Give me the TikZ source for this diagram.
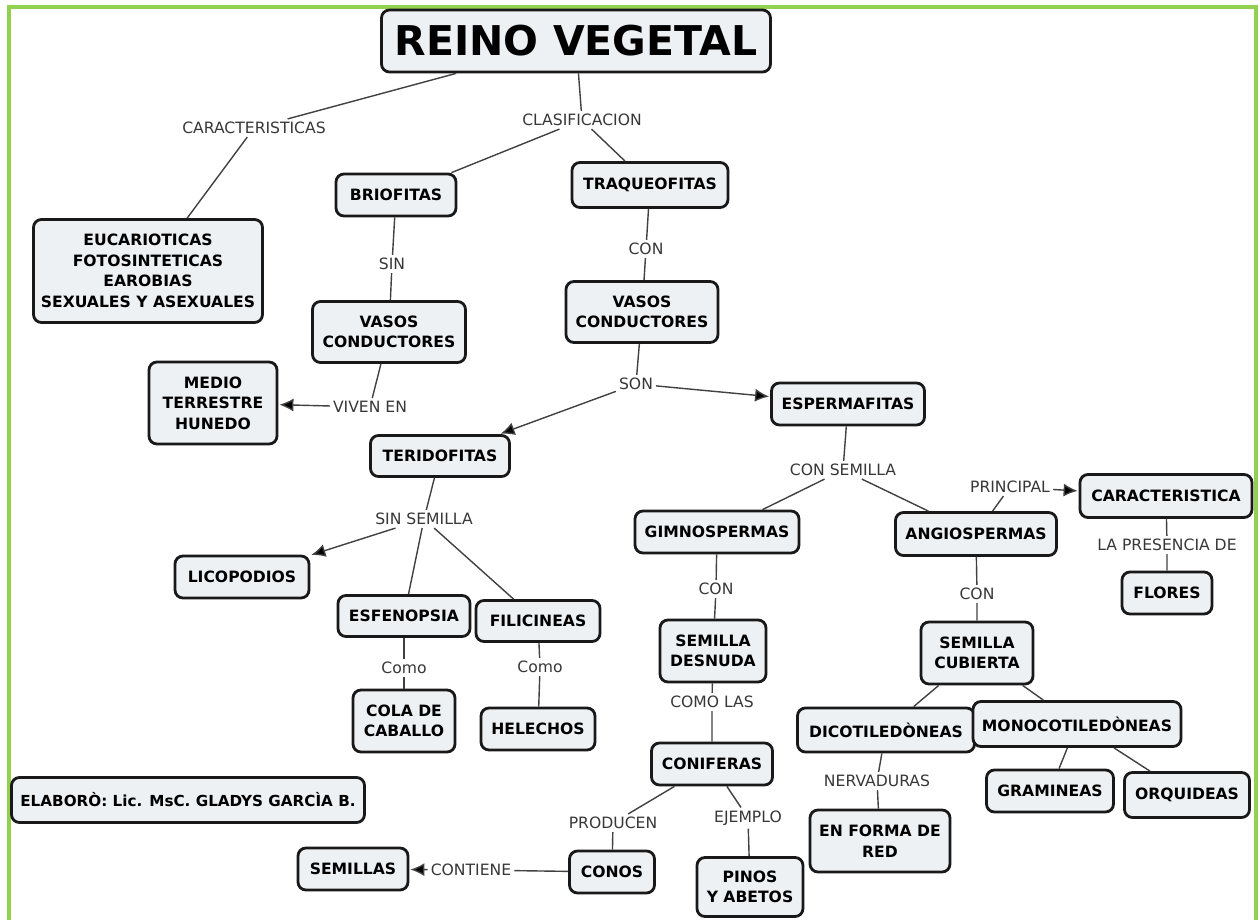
\documentclass[tikz,border=0pt]{standalone}
\usepackage{fontspec}
\setmainfont{DejaVu Sans}
\usetikzlibrary{arrows.meta}
\definecolor{boxfill}{RGB}{237,241,244}
\definecolor{framegreen}{RGB}{146,208,80}
\definecolor{conn}{RGB}{65,65,65}
\definecolor{lbl}{RGB}{55,55,55}
\tikzset{
 concept/.style={draw=black!90, line width=2.8pt, rounded corners=8pt, fill=boxfill,
   font=\bfseries\fontsize{15.6}{20.5}\selectfont, align=center, inner sep=4pt},
 linklbl/.style={font=\fontsize{15.6}{18}\selectfont, text=lbl, inner sep=3pt},
 link/.style={draw=conn, line width=1.4pt},
 arr/.style={link, -{Latex[length=14pt,width=13pt,fill=black]}, shorten >=1pt},
}
\begin{document}
\begin{tikzpicture}[x=1pt,y=-1pt]
\useasboundingbox (0,0) rectangle (1258,920);
\fill[white] (0,0) rectangle (1258,920);
\draw[framegreen, line width=3.5pt] (9,920) -- (9,7) -- (1256,7) -- (1256,920);

% concept nodes
\node[concept, minimum width=389, minimum height=62, font=\bfseries\fontsize{41}{45}\selectfont] (reino) at (576,41) {REINO VEGETAL};
\node[concept, minimum width=229, minimum height=103] (eucar) at (148,271) {EUCARIOTICAS\\FOTOSINTETICAS\\EAROBIAS\\SEXUALES Y ASEXUALES};
\node[concept, minimum width=120, minimum height=42] (brio) at (396,195) {BRIOFITAS};
\node[concept, minimum width=156, minimum height=45] (traq) at (650,185) {TRAQUEOFITAS};
\node[concept, minimum width=153, minimum height=61] (vasos1) at (389,332) {VASOS\\CONDUCTORES};
\node[concept, minimum width=152, minimum height=61] (vasos2) at (642,312) {VASOS\\CONDUCTORES};
\node[concept, minimum width=128, minimum height=82] (medio) at (213,403) {MEDIO\\TERRESTRE\\HUNEDO};
\node[concept, minimum width=139, minimum height=41] (terid) at (440,456) {TERIDOFITAS};
\node[concept, minimum width=153, minimum height=42] (esperma) at (848,404) {ESPERMAFITAS};
\node[concept, minimum width=134, minimum height=42] (licop) at (242,577) {LICOPODIOS};
\node[concept, minimum width=132, minimum height=41] (esfen) at (404,616) {ESFENOPSIA};
\node[concept, minimum width=124, minimum height=41] (filic) at (538,621) {FILICINEAS};
\node[concept, minimum width=102, minimum height=62] (cola) at (404,721) {COLA DE\\CABALLO};
\node[concept, minimum width=114, minimum height=42] (helechos) at (538,729) {HELECHOS};
\node[concept, minimum width=164, minimum height=42] (gimno) at (717,532) {GIMNOSPERMAS};
\node[concept, minimum width=161, minimum height=43] (angio) at (976,534) {ANGIOSPERMAS};
\node[concept, minimum width=172, minimum height=43] (caract) at (1166,496) {CARACTERISTICA};
\node[concept, minimum width=90, minimum height=42] (flores) at (1167,593) {FLORES};
\node[concept, minimum width=106, minimum height=62] (semdes) at (713,651) {SEMILLA\\DESNUDA};
\node[concept, minimum width=112, minimum height=62] (semcub) at (977,653) {SEMILLA\\CUBIERTA};
\node[concept, minimum width=177, minimum height=44] (dico) at (886,730) {DICOTILEDÒNEAS};
\node[concept, minimum width=208, minimum height=45] (mono) at (1077,724) {MONOCOTILEDÒNEAS};
\node[concept, minimum width=140, minimum height=62] (enforma) at (880,841) {EN FORMA DE\\RED};
\node[concept, minimum width=127, minimum height=42] (gram) at (1050,791) {GRAMINEAS};
\node[concept, minimum width=125, minimum height=45] (orq) at (1187,795) {ORQUIDEAS};
\node[concept, minimum width=121, minimum height=42] (conif) at (712,764) {CONIFERAS};
\node[concept, minimum width=85, minimum height=42] (conos) at (612,872) {CONOS};
\node[concept, minimum width=106, minimum height=59] (pinos) at (750,887) {PINOS\\Y ABETOS};
\node[concept, minimum width=110, minimum height=42] (semillas) at (353,869) {SEMILLAS};
\node[concept, minimum width=353, minimum height=45, font=\bfseries\fontsize{15.2}{18}\selectfont] (elab) at (188,800) {ELABORÒ: Lic. MsC. GLADYS GARCÌA B.};

% linking phrases
\node[linklbl] (lcar) at (254,128) {CARACTERISTICAS};
\node[linklbl] (lclas) at (582,120) {CLASIFICACION};
\node[linklbl] (lsin) at (392,264) {SIN};
\node[linklbl] (lcon1) at (646,249) {CON};
\node[linklbl] (lviven) at (370,407) {VIVEN EN};
\node[linklbl] (lson) at (636,384) {SON};
\node[linklbl] (lsinsem) at (424,519) {SIN SEMILLA};
\node[linklbl] (lcomo1) at (404,668) {Como};
\node[linklbl] (lcomo2) at (540,667) {Como};
\node[linklbl] (lconsem) at (843,470) {CON SEMILLA};
\node[linklbl] (lprin) at (1010,487) {PRINCIPAL};
\node[linklbl] (lpres) at (1167,545) {LA PRESENCIA DE};
\node[linklbl] (lcon3) at (977,594) {CON};
\node[linklbl] (lcon2) at (716,589) {CON};
\node[linklbl] (lcomolas) at (712,702) {COMO LAS};
\node[linklbl] (lnerv) at (877,781) {NERVADURAS};
\node[linklbl] (lprod) at (613,823) {PRODUCEN};
\node[linklbl] (lejem) at (748,818) {EJEMPLO};
\node[linklbl] (lcont) at (471,870) {CONTIENE};

% connectors
\draw[link] (reino) -- (lcar);
\draw[link] (lcar) -- (eucar);
\draw[link] (reino) -- (lclas);
\draw[link] (lclas) -- (brio);
\draw[link] (lclas) -- (traq);
\draw[link] (brio) -- (lsin) -- (vasos1);
\draw[link] (traq) -- (lcon1) -- (vasos2);
\draw[link] (vasos1) -- (lviven);
\draw[arr] (lviven) -- (medio);
\draw[link] (vasos2) -- (lson);
\draw[arr] (lson) -- (terid);
\draw[arr] (lson) -- (esperma);
\draw[link] (terid) -- (lsinsem);
\draw[arr] (lsinsem) -- (licop);
\draw[link] (lsinsem) -- (esfen);
\draw[link] (lsinsem) -- (filic);
\draw[link] (esfen) -- (lcomo1) -- (cola);
\draw[link] (filic) -- (lcomo2) -- (helechos);
\draw[link] (esperma) -- (lconsem);
\draw[link] (lconsem) -- (gimno);
\draw[link] (lconsem) -- (angio);
\draw[link] (angio) -- (lprin);
\draw[arr] (lprin) -- (caract);
\draw[link] (caract) -- (lpres) -- (flores);
\draw[link] (angio) -- (lcon3) -- (semcub);
\draw[link] (semcub) -- (dico);
\draw[link] (semcub) -- (mono);
\draw[link] (dico) -- (lnerv) -- (enforma);
\draw[link] (mono) -- (gram);
\draw[link] (mono) -- (orq);
\draw[link] (gimno) -- (lcon2) -- (semdes);
\draw[link] (semdes) -- (lcomolas) -- (conif);
\draw[link] (conif) -- (lprod) -- (conos);
\draw[link] (conif) -- (lejem) -- (pinos);
\draw[link] (conos) -- (lcont);
\draw[arr] (lcont) -- (semillas);
\end{tikzpicture}
\end{document}
